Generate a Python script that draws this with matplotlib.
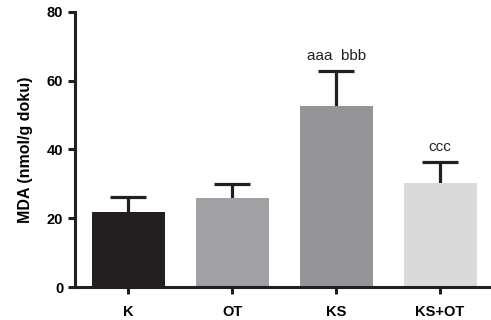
import numpy as np
import matplotlib.pyplot as plt

plt.rc('font', family='Liberation Sans', weight='bold')

#-------------------------------------------------------------------------------
#DATA

groups = ['K', 'OT', 'KS', 'KS+OT']
mda = [21.8, 26.0, 52.7, 30.3]
mda_err = [4.4, 3.9, 10.1, 6.1]
notes = ['', '', 'aaa  bbb', 'ccc']
colors = ['#231f20', '#a0a1a5', '#939598', '#d9dadb']

#-------------------------------------------------------------------------------
#PLOT

fig = plt.figure(figsize=(4.91, 3.20), dpi=100)
ax = fig.add_axes([0.153, 0.103, 0.845, 0.86])

x = np.arange(len(groups))
top = np.array(mda) + np.array(mda_err)
ax.bar(x, mda, width=0.70, color=colors, zorder=2)
#upper error bars only (SEM style, no lower cap)
ax.vlines(x, mda, top, color='#231f20', lw=2.3, zorder=1)
ax.hlines(top, x - 0.17, x + 0.17, color='#231f20', lw=2.3, zorder=1)

for xi, t, n in zip(x, top, notes):
    if n:
        ax.text(xi, t + 2.2, n, ha='center', va='bottom',
                fontsize=11, fontweight='normal', color='#231f20')

ax.set_xlim(-0.51, 3.48)
ax.set_ylim(0, 80)
ax.set_yticks([0, 20, 40, 60, 80])
ax.set_xticks(x)
ax.set_xticklabels(groups)
ax.set_ylabel('MDA (nmol/g doku)', fontsize=11.5, fontweight='bold',
              labelpad=10)

for s in ['top', 'right']:
    ax.spines[s].set_visible(False)
for s in ['left', 'bottom']:
    ax.spines[s].set_linewidth(2.2)
    ax.spines[s].set_color('#231f20')
ax.tick_params(width=2.2, length=5, color='#231f20', labelsize=10.5)
ax.tick_params(axis='x', pad=8)

fig.savefig('out.png', dpi=100)
